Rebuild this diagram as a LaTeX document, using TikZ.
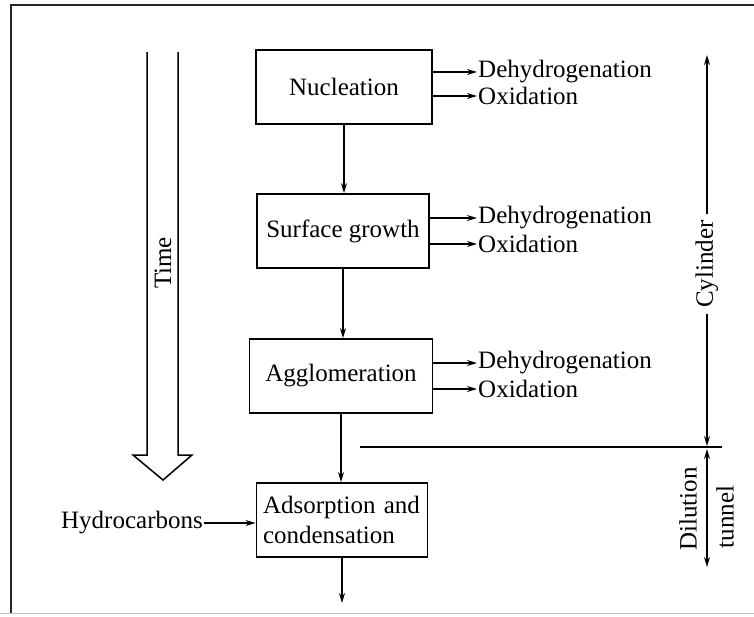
\documentclass[tikz,border=0pt]{standalone}
\usepackage{fontspec}
\setmainfont{Liberation Serif}
\usetikzlibrary{arrows.meta}
\begin{document}
\begin{tikzpicture}[x=1pt,y=-1pt,
  txt/.style={font=\fontsize{25}{30}\selectfont, inner sep=1pt},
  box/.style={txt, draw, line width=1.8pt, minimum height=74pt},
  arr/.style={line width=1.5pt, -{Stealth[length=10pt,width=6pt]}},
  ln/.style={line width=1.5pt}]
\useasboundingbox (0,0) rectangle (754,616);
% frame
\draw[line width=1.4pt, black!85] (11,613) -- (11,5) -- (760,5);
\draw[line width=1pt, black!25] (0,613) -- (754,613);
% boxes
\node[box, minimum width=176pt] (n1) at (344,87) {Nucleation};
\node[box, minimum width=172pt] (n2) at (343,231) {Surface growth};
\node[box, minimum width=183pt] (n3) at (341,376) {Agglomeration};
\node[box, minimum width=171pt, align=left, text width=158pt] (n4) at (342,520) {Adsorption and\\condensation};
\coordinate (end) at (342,603);
\draw[arr] (n1.south) -- (n1.south |- n2.north);
\draw[arr] (n2.south) -- (n2.south |- n3.north);
\draw[arr] (n3.south) -- (n3.south |- n4.north);
\draw[arr] (n4.south) -- (end);
% side products
\node[txt, anchor=west] (d1) at (477,72) {Dehydrogenation};
\node[txt, anchor=west] (o1) at (477,96) {Oxidation};
\node[txt, anchor=west] (d2) at (477,218) {Dehydrogenation};
\node[txt, anchor=west] (o2) at (477,244) {Oxidation};
\node[txt, anchor=west] (d3) at (477,363) {Dehydrogenation};
\node[txt, anchor=west] (o3) at (477,389) {Oxidation};
\foreach \b/\t in {n1/d1,n1/o1,n2/d2,n2/o2,n3/d3,n3/o3}
  \draw[arr] (\b.east |- \t.west) -- (\t.west);
% hydrocarbons
\node[txt, anchor=east] (hc) at (204,523) {Hydrocarbons};
\draw[arr] (hc.east) -- (n4.west |- hc.east);
% time arrow
\draw[ln, line join=miter] (147,52) -- (147,455) -- (133,455) -- (163,480) -- (192,455) -- (178,455) -- (178,52);
\node[txt, rotate=90] (time) at (163,263) {Time};
% cylinder / dilution tunnel
\coordinate (cyt) at (707,55);
\coordinate (cyb) at (707,446);
\node[txt, rotate=90, inner xsep=6pt] (cyl) at (707,264) {Cylinder};
\draw[arr] (cyl.east) -- (cyt);
\draw[arr] (cyl.west) -- (cyb);
\coordinate (hl) at (360,447);
\coordinate (hr) at (722,447);
\draw[ln] (hl) -- (hr);
\coordinate (dt) at (707,449);
\coordinate (db) at (707,567);
\draw[line width=1.5pt, {Stealth[length=10pt,width=6pt]}-{Stealth[length=10pt,width=6pt]}] (dt) -- (db);
\node[txt, rotate=90] (dil) at (688,509) {Dilution};
\node[txt, rotate=90] (tun) at (725,517) {tunnel};
\end{tikzpicture}
\end{document}
